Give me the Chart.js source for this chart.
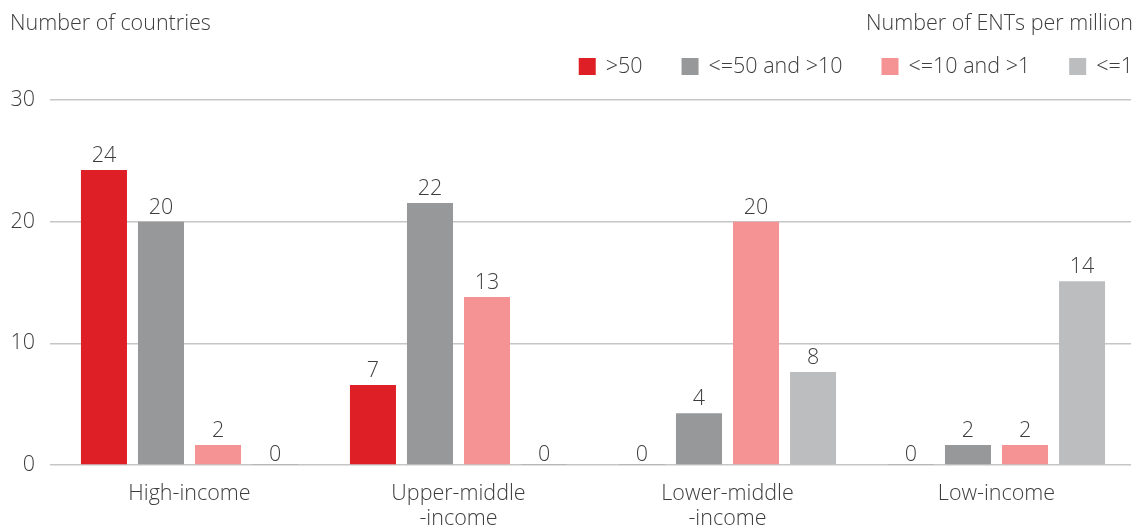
<!DOCTYPE html>
<html><head><meta charset="utf-8">
<script src="https://cdn.jsdelivr.net/npm/chart.js@4"></script>
<style>html,body{margin:0;padding:0;background:#fff}canvas{display:block}</style>
</head><body>
<canvas id="c" width="1140" height="528"></canvas>
<script>
const categories = [['High-income'], ['Upper-middle', '-income'], ['Lower-middle', '-income'], ['Low-income']];
const seriesNames = ['>50', '<=50 and >10', '<=10 and >1', '<=1'];
const seriesColors = ['#DF1F26', '#97989A', '#F59294', '#BCBDBF'];
const over50 = [24.25, 6.58, 0, 0];
const from10to50 = [20, 21.54, 4.25, 1.64];
const from1to10 = [1.64, 13.81, 20, 1.64];
const upTo1 = [0, 0, 7.65, 15.1];
const over50Labels = ['24', '7', '0', '0'];
const from10to50Labels = ['20', '22', '4', '2'];
const from1to10Labels = ['2', '13', '20', '2'];
const upTo1Labels = ['0', '0', '8', '14'];
const yTicks = [0, 10, 20, 30];
const yTitle = 'Number of countries';
const legendTitle = 'Number of ENTs per million';

const seriesValues = [over50, from10to50, from1to10, upTo1];
const seriesLabels = [over50Labels, from10to50Labels, from1to10Labels, upTo1Labels];
const FONT = "'Open Sans', 'Noto Sans', sans-serif";
const FS = 21.5;
const TXT = '#3d3d3d';
const ZERO = '#8c8c8c';

Chart.defaults.font.family = FONT;
Chart.defaults.font.weight = 300;
Chart.defaults.color = TXT;

const overlay = {
  id: 'overlay',
  afterDraw(chart) {
    const ctx = chart.ctx;
    const yS = chart.scales.y;
    ctx.save();
    ctx.fillStyle = TXT;
    ctx.font = "300 " + FS + "px " + FONT;
    ctx.textBaseline = 'alphabetic';
    // headers
    ctx.textAlign = 'left';
    ctx.fillText(yTitle, 10, 30);
    ctx.textAlign = 'right';
    ctx.fillText(legendTitle, 1133, 30);
    // legend (right aligned)
    const box = 17, gapText = 10, gapItem = 39;
    let x = 1133;
    const items = [];
    for (let i = seriesNames.length - 1; i >= 0; i--) {
      const w = ctx.measureText(seriesNames[i]).width;
      const textX = x - w;
      const boxX = textX - gapText - box;
      items.push({ i, textX, boxX });
      x = boxX - gapItem;
    }
    ctx.textAlign = 'left';
    items.forEach(it => {
      ctx.fillStyle = seriesColors[it.i];
      ctx.fillRect(it.boxX, 58, box, box);
      ctx.fillStyle = TXT;
      ctx.fillText(seriesNames[it.i], it.textX, 73);
    });
    // data labels
    ctx.textAlign = 'center';
    chart.data.datasets.forEach((ds, di) => {
      const meta = chart.getDatasetMeta(di);
      meta.data.forEach((el, j) => {
        const v = ds.data[j];
        const y = yS.getPixelForValue(v) - (v === 0 ? 4 : 8);
        ctx.fillText(seriesLabels[di][j], el.x, y);
      });
    });
    ctx.restore();
  }
};

new Chart(document.getElementById('c'), {
  type: 'bar',
  data: {
    labels: categories,
    datasets: seriesNames.map((n, i) => ({
      label: n,
      data: seriesValues[i],
      backgroundColor: c => (c.raw === 0 ? ZERO : seriesColors[i]),
      minBarLength: 1,
      barPercentage: 0.807,
      categoryPercentage: 0.848,
      borderWidth: 0
    }))
  },
  options: {
    responsive: false,
    animation: false,
    devicePixelRatio: 1,
    layout: { padding: { top: 100, right: 9, left: 0, bottom: 0 } },
    plugins: { legend: { display: false }, tooltip: { enabled: false } },
    scales: {
      x: {
        grid: { display: false },
        border: { display: false },
        ticks: { padding: 8, font: { size: FS, weight: 300, lineHeight: 1.17 }, color: TXT, maxRotation: 0 },
        afterFit(s) { s.height = 63; }
      },
      y: {
        min: 0, max: 30,
        afterBuildTicks(s) { s.ticks = yTicks.map(v => ({ value: v })); },
        grid: { color: '#c6c6c6', lineWidth: 1.5, drawTicks: true, tickLength: 5 },
        border: { display: false },
        ticks: { padding: 15, font: { size: FS, weight: 300 }, color: TXT },
        afterFit(s) { s.width = 55; }
      }
    }
  },
  plugins: [overlay]
});
</script>
</body></html>
